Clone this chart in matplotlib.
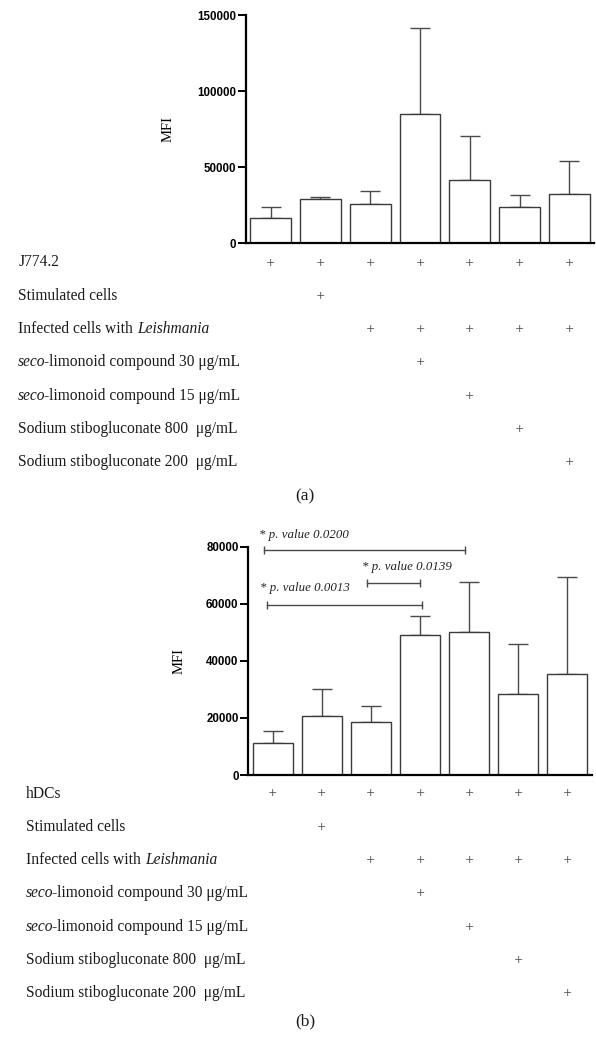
import matplotlib
matplotlib.use("Agg")
import matplotlib.pyplot as plt
import matplotlib.transforms as mtransforms
import numpy as np

# ---------------- data ----------------
groups = ["G1", "G2", "G3", "G4", "G5", "G6", "G7"]

mfi_a = [16600, 29000, 26000, 85300, 41700, 23700, 32200]
err_top_a = [24000, 30700, 34200, 141500, 70400, 31600, 54300]

mfi_b = [11100, 20700, 18700, 49200, 50200, 28500, 35500]
err_top_b = [15500, 30100, 24300, 55800, 67700, 45900, 69500]

# each row label as segments: (text, italic)
row_labels_a = [
    [("J774.2", False)],
    [("Stimulated cells", False)],
    [("Infected cells with", False), ("Leishmania", True)],
    [("seco", True), ("-limonoid compound 30 μg/mL", False)],
    [("seco", True), ("-limonoid compound 15 μg/mL", False)],
    [("Sodium stibogluconate 800  μg/mL", False)],
    [("Sodium stibogluconate 200  μg/mL", False)],
]
row_labels_b = [[("hDCs", False)]] + row_labels_a[1:]

presence = [
    [1, 1, 1, 1, 1, 1, 1],
    [0, 1, 0, 0, 0, 0, 0],
    [0, 0, 1, 1, 1, 1, 1],
    [0, 0, 0, 1, 0, 0, 0],
    [0, 0, 0, 0, 1, 0, 0],
    [0, 0, 0, 0, 0, 1, 0],
    [0, 0, 0, 0, 0, 0, 1],
]

yticks_a = [0, 50000, 100000, 150000]
yticks_b = [0, 20000, 40000, 60000, 80000]

# significance brackets for panel b
sig_x0 = [-0.17, 1.92, -0.12]
sig_x1 = [3.92, 3.0, 3.04]
sig_y = [79000, 67200, 59600]
sig_labels = ["* p. value 0.0200", "* p. value 0.0139", "* p. value 0.0013"]
sig_text_x = [-0.29, 1.82, -0.26]
sig_text_y = [84100, 72800, 65600]

# ---------------- figure ----------------
W, H = 596, 1040
fig = plt.figure(figsize=(W / 100, H / 100), dpi=100)
renderer = fig.canvas.get_renderer()

def px_ax(left, top, right, bottom):
    return fig.add_axes([left / W, 1 - bottom / H, (right - left) / W, (bottom - top) / H])

ax_a = px_ax(245.7, 15.3, 594.3, 243.3)
ax_b = px_ax(248.3, 546.7, 591.7, 775.0)

edge = "#3a3a3a"

def draw_panel(ax, vals, tops, yticks, ylabel_x):
    x = np.arange(len(vals))
    vals = np.array(vals)
    yerr = np.array(tops) - vals
    ax.bar(x, vals, width=0.82, color="white", edgecolor=edge, linewidth=1.0, zorder=2)
    ax.errorbar(x, vals, yerr=[np.zeros_like(yerr), yerr], fmt="none", ecolor="#4a4a4a",
                elinewidth=1.0, capsize=7.3, capthick=1.0, zorder=1)
    ax.set_xlim(-0.5, 6.5)
    ax.set_ylim(0, yticks[-1])
    ax.set_yticks(yticks)
    ax.set_yticklabels([str(t) for t in yticks], fontfamily="Liberation Sans",
                       fontweight="bold", fontsize=8.3)
    for s in ["top", "right"]:
        ax.spines[s].set_visible(False)
    ax.spines["left"].set_linewidth(1.6)
    ax.spines["bottom"].set_linewidth(1.6)
    ax.tick_params(axis="y", direction="out", length=6, width=1.4, pad=1)
    ax.set_xticks(x)
    ax.set_xticklabels([])
    ax.tick_params(axis="x", direction="inout", length=3, width=1.5, color="white")
    ax.set_ylabel("MFI", fontfamily="Liberation Serif", fontsize=10.5)
    ax.yaxis.set_label_coords(ylabel_x, 0.5)

draw_panel(ax_a, mfi_a, err_top_a, yticks_a, -0.203)
draw_panel(ax_b, mfi_b, err_top_b, yticks_b, -0.184)

# significance brackets
for x0, x1, y, lab, tx, ty in zip(sig_x0, sig_x1, sig_y, sig_labels, sig_text_x, sig_text_y):
    ax_b.plot([x0, x1], [y, y], color="#4a4a4a", lw=1.0, clip_on=False,
              marker="|", markersize=6, markeredgewidth=1.0, zorder=3)
    ax_b.text(tx, ty, lab, ha="left", va="center", fontfamily="Liberation Serif",
              fontstyle="italic", fontsize=9.3, color="#222222")

LABEL_FS = 11.2

def text_width(s, style):
    t = fig.text(0, 0, s, fontfamily="Liberation Serif", fontsize=LABEL_FS, fontstyle=style)
    w = t.get_window_extent(renderer).width
    t.remove()
    return w

space_w = text_width("x x", "normal") - text_width("xx", "normal")

def draw_label(x_px, y_px, segments):
    cur = x_px
    for i, (s, it) in enumerate(segments):
        style = "italic" if it else "normal"
        fig.text(cur / W, 1 - y_px / H, s, ha="left", va="center",
                 fontfamily="Liberation Serif", fontsize=LABEL_FS, fontstyle=style,
                 color="#1a1a1a")
        cur += text_width(s, style)
        if i + 1 < len(segments):
            if segments[i + 1][0].startswith("-"):
                cur -= 1.5
            else:
                cur += space_w

# treatment tables
def draw_table(ax, labels, label_x, first_row_y):
    trans_plus = mtransforms.blended_transform_factory(ax.transData, fig.transFigure)
    for r, lab in enumerate(labels):
        ypx = first_row_y + r * 33.3
        yf = 1 - ypx / H
        draw_label(label_x, ypx, lab)
        for c, p in enumerate(presence[r]):
            if p:
                ax.text(c, yf, "+", transform=trans_plus, ha="center", va="center",
                        fontfamily="DejaVu Sans", fontsize=8, color="#555555")

draw_table(ax_a, row_labels_a, 18.3, 262.5)
draw_table(ax_b, row_labels_b, 26.0, 793.5)

fig.text(305 / W, 1 - 496 / H, "(a)", ha="center", va="center",
         fontfamily="Liberation Serif", fontsize=12.5, color="#1a1a1a")
fig.text(305 / W, 1 - 1021 / H, "(b)", ha="center", va="center",
         fontfamily="Liberation Serif", fontsize=12.5, color="#1a1a1a")

fig.savefig("out.png", dpi=100, facecolor="white")
